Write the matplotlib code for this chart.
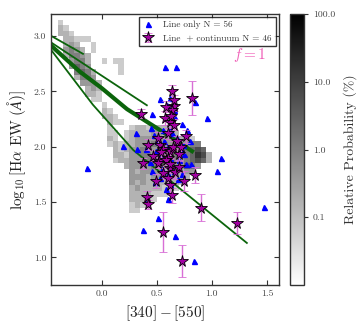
import matplotlib

matplotlib.use("Agg")
import matplotlib.pyplot as plt
import numpy as np
from matplotlib.colors import LogNorm
from matplotlib.ticker import FixedLocator, FixedFormatter, FormatStrFormatter

plt.rcParams["font.family"] = "serif"
plt.rcParams["font.serif"] = ["cmr10", "DejaVu Serif"]
plt.rcParams["mathtext.fontset"] = "cm"
plt.rcParams["axes.formatter.use_mathtext"] = True
plt.rcParams["axes.unicode_minus"] = False

# model density grid: rows from y=3.20 down to 1.35, columns from x=-0.45 to 1.00 (0.05 bins)
# digit = grey level (0 = empty)
hist_levels = [
    "00000000000000000000000000000",
    "02000000000000000000000000000",
    "03200000000000000000000000000",
    "03320000000000000000000000000",
    "00332220000000000000000000000",
    "00343002000000000000000000000",
    "00454302000000000000000000000",
    "00355430000000000000000000000",
    "00045530020220000000000000000",
    "00046540000020000000000000000",
    "00005653000020000000000000000",
    "00003554000000000000000000000",
    "00000444300000000000000000000",
    "00000034300000000000000000000",
    "00000033200000000000000000000",
    "00000002200000000000000000000",
    "00000000020000000000000000000",
    "00000000032000000000000000000",
    "00000000033200000000000000000",
    "00000000003220000000000000000",
    "00000000002000233233320000000",
    "00000000002202333344333000000",
    "00000000003202344444444332000",
    "00000000002323344454444445500",
    "00000000000323445445454556760",
    "00000000000332445545455456873",
    "00000000000233444554545456763",
    "00000000000003444455454465400",
    "00000000000000434444344344000",
    "00000000000000444344433330000",
    "00000000000000434333333200000",
    "00000000000000343333222000000",
    "00000000000000333322200000000",
    "00000000000000333220000000000",
    "00000000000000232200000000000",
    "00000000000000220000000000000",
    "00000000000000000000000000000",
]
hist_x0, hist_y_top, hist_step = -0.45, 3.20, 0.05

# tracks
track_a_x = [-0.455, -0.17]
track_a_y = [3.00, 2.84]
track_b_x = [-0.455, 0.41]
track_b_y = [2.94, 2.375]
track_c_x = [-0.455, -0.2, 0.0, 0.23, 0.53, 0.82]
track_c_y = [2.91, 2.68, 2.53, 2.34, 2.15, 1.96]
track_d_x = [-0.455, -0.08, 0.287, 0.712, 1.318]
track_d_y = [2.87, 2.38, 1.97, 1.62, 1.13]

line_only_x = [0.575, 0.675, 0.53, 0.85, 0.455, 0.955, 0.733, 1.085, 1.045, 1.47,
               0.51, 0.666, 0.84, 0.373, -0.13, 0.31, 0.19, 0.32, 0.448, 0.478,
               0.62, 0.775, 0.806, 0.497, 0.436, 0.77, 0.815, 0.533, 0.487, 0.618,
               0.73, 0.618, 0.654, 0.657, 0.41, 0.606, 0.57, 0.60, 0.68, 0.72,
               0.55, 0.60, 0.70, 0.66, 0.59, 0.62, 0.53, 0.46, 0.58, 0.75,
               0.69, 0.64, 0.56, 0.50, 0.74, 0.40]
line_only_y = [2.72, 2.72, 2.43, 2.40, 2.30, 2.26, 2.21, 1.90, 1.78, 1.455,
               1.36, 1.195, 0.97, 1.25, 1.81, 2.125, 2.01, 1.975, 2.17, 2.11,
               2.16, 2.15, 2.05, 1.96, 1.86, 1.84, 1.84, 1.72, 1.68, 1.66,
               1.75, 1.90, 1.78, 2.33, 1.52, 1.53, 2.05, 2.00, 2.08, 1.98,
               1.80, 1.75, 1.88, 2.28, 2.38, 2.44, 1.92, 1.78, 1.62, 1.93,
               1.71, 2.12, 2.15, 2.05, 2.02, 1.98]

cont_x = [0.636, 0.818, 0.355, 0.66, 0.64, 0.575, 0.62, 0.63, 0.654, 0.766,
          0.418, 0.53, 0.56, 0.62, 0.70, 0.60, 0.378, 0.518, 0.58, 0.62,
          0.67, 0.848, 0.745, 0.49, 0.62, 0.41, 0.418, 0.555, 0.636, 0.90,
          1.233, 0.727, 0.515, 0.62, 0.60, 0.68, 0.51, 0.65, 0.56, 0.70,
          0.47, 0.72, 0.58, 0.66, 0.54, 0.60]
cont_y = [2.50, 2.44, 2.30, 2.37, 2.33, 2.26, 2.22, 2.28, 2.20, 2.095,
          2.02, 2.02, 1.98, 1.96, 1.93, 1.90, 1.85, 1.87, 1.88, 1.81,
          1.77, 1.745, 1.69, 1.69, 1.65, 1.55, 1.48, 1.23, 1.56, 1.45,
          1.31, 0.97, 1.855, 1.84, 2.12, 2.05, 2.08, 2.00, 1.76, 1.82,
          1.92, 2.00, 2.36, 2.42, 1.95, 1.72]
cont_err = [0.06, 0.15, 0.04, 0.05, 0.05, 0.06, 0.05, 0.05, 0.05, 0.06,
            0.05, 0.06, 0.05, 0.06, 0.05, 0.05, 0.05, 0.06, 0.05, 0.05,
            0.06, 0.07, 0.09, 0.06, 0.07, 0.05, 0.04, 0.18, 0.07, 0.12,
            0.10, 0.145, 0.05, 0.05, 0.05, 0.05, 0.05, 0.05, 0.05, 0.05,
            0.05, 0.06, 0.05, 0.05, 0.05, 0.06]

cbar_ticks = [0.1, 1.0, 10.0, 100.0]
cbar_labels = ["0.1", "1.0", "10.0", "100.0"]


def main() -> None:
    levels = np.array([[int(ch) for ch in row] for row in hist_levels], dtype=float)
    prob = np.where(levels > 0, 10 ** (-2 + 0.4 * levels), np.nan)
    prob = np.ma.masked_invalid(prob[::-1])
    nrow, ncol = levels.shape
    xedges = hist_x0 + hist_step * np.arange(ncol + 1)
    yedges = hist_y_top - hist_step * nrow + hist_step * np.arange(nrow + 1)

    fig = plt.figure(figsize=(3.58, 3.25), dpi=100)
    ax = fig.add_axes([0.1425, 0.1231, 0.6369, 0.8338])
    cax = fig.add_axes([0.810, 0.1231, 0.039, 0.8338])

    mesh = ax.pcolormesh(xedges, yedges, prob, cmap="gray_r",
                         norm=LogNorm(vmin=0.01, vmax=100), zorder=1)

    green = "#0b640b"
    ax.plot(track_a_x, track_a_y, color=green, lw=1.3, zorder=2)
    ax.plot(track_b_x, track_b_y, color=green, lw=1.3, zorder=2)
    ax.plot(track_c_x, track_c_y, color=green, lw=3.0, zorder=2)
    ax.plot(track_d_x, track_d_y, color=green, lw=1.3, zorder=2)

    ax.plot(line_only_x, line_only_y, ls="none", marker="^", ms=3.6,
            color="#0000ff", mec="#0000ff", zorder=3,
            label="Line only N = 56")
    ax.errorbar(cont_x, cont_y, yerr=cont_err, fmt="*", ms=8.5,
                mfc="#a300a3", mec="black", mew=0.6, ecolor="#d86fd6",
                elinewidth=1.0, capsize=3, capthick=1.0, zorder=4,
                label="Line  + continuum N = 46")

    ax.text(0.943, 0.834, r"$f = 1$", transform=ax.transAxes, ha="right",
            va="baseline", color="#f060b8", fontsize=11)

    ax.set_xlim(-0.46, 1.61)
    ax.set_ylim(0.75, 3.2)
    ax.xaxis.set_major_locator(FixedLocator([0.0, 0.5, 1.0, 1.5]))
    ax.yaxis.set_major_locator(FixedLocator([1.0, 1.5, 2.0, 2.5, 3.0]))
    ax.xaxis.set_major_formatter(FormatStrFormatter("%.1f"))
    ax.yaxis.set_major_formatter(FormatStrFormatter("%.1f"))
    ax.tick_params(direction="in", top=True, right=True, length=3.5,
                   width=0.8, labelsize=7, labelcolor="#444444", color="#333333")
    for spine in ax.spines.values():
        spine.set_color("#333333")
        spine.set_linewidth(1.0)
    ax.set_xlabel(r"$[340] - [550]$", fontsize=11, color="#222222")
    ax.set_ylabel(r"$\log_{10}[\mathrm{H}\alpha\ \mathrm{EW}\ (\AA)]$",
                  fontsize=11, color="#222222", labelpad=4)

    leg = ax.legend(loc="upper right", bbox_to_anchor=(0.985, 0.988),
                    borderaxespad=0, fontsize=6.6, frameon=True, fancybox=False,
                    handlelength=1.3, handletextpad=1.0, borderpad=0.4,
                    labelspacing=0.5, numpoints=1)
    leg.get_frame().set_edgecolor("black")
    leg.get_frame().set_linewidth(1.0)
    for txt in leg.get_texts():
        txt.set_color("#333333")

    cb = fig.colorbar(mesh, cax=cax)
    cb.set_ticks(cbar_ticks)
    cb.ax.yaxis.set_major_formatter(FixedFormatter(cbar_labels))
    cb.ax.minorticks_off()
    cb.ax.tick_params(labelsize=7, length=3, width=0.8, labelcolor="#444444",
                      color="#333333")
    cb.outline.set_edgecolor("#333333")
    cb.outline.set_linewidth(1.0)
    cb.set_label("Relative Probability (%)", fontsize=10, color="#333333",
                 labelpad=6)

    fig.savefig("out.png", dpi=100)
    plt.close(fig)


if __name__ == "__main__":
    main()
